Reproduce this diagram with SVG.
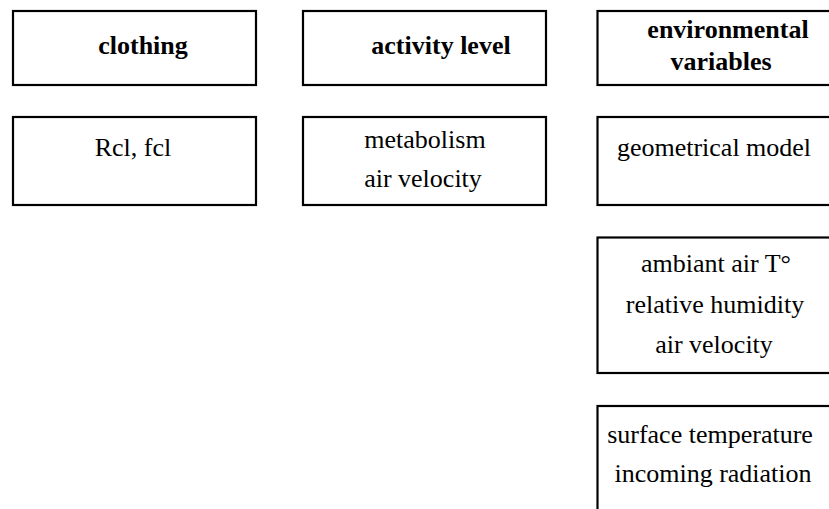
<svg xmlns="http://www.w3.org/2000/svg" width="829" height="509" viewBox="0 0 829 509">
<style>
.box{fill:#fff;stroke:#000;stroke-width:2.2}
.t{font-family:"Liberation Serif","Times New Roman",serif;font-size:26px;fill:#000;text-anchor:middle}
.b{font-weight:bold}
</style>
<rect x="0" y="0" width="829" height="509" fill="#fff"/>
<g id="connectors"></g>
<g id="clothing">
<rect class="box" x="13" y="11" width="243" height="74"/>
<text class="t b" x="143" y="54">clothing</text>
</g>
<g id="activity">
<rect class="box" x="303" y="11" width="243" height="74"/>
<text class="t b" x="441" y="54">activity level</text>
</g>
<g id="environmental">
<rect class="box" x="597.5" y="11" width="250" height="74"/>
<text class="t b" x="728" y="38">environmental</text>
<text class="t b" x="721" y="70">variables</text>
</g>
<g id="rcl">
<rect class="box" x="13" y="117" width="243" height="88"/>
<text class="t" x="133" y="156">Rcl, fcl</text>
</g>
<g id="metabolism">
<rect class="box" x="303" y="117" width="243" height="88"/>
<text class="t" x="425" y="148">metabolism</text>
<text class="t" x="423" y="187">air velocity</text>
</g>
<g id="geometrical">
<rect class="box" x="597.5" y="117" width="250" height="88"/>
<text class="t" x="714" y="156">geometrical model</text>
</g>
<g id="ambiant">
<rect class="box" x="597.5" y="237.5" width="250" height="135.5"/>
<text class="t" x="716" y="272">ambiant air T°</text>
<text class="t" x="715" y="313">relative humidity</text>
<text class="t" x="714" y="353">air velocity</text>
</g>
<g id="surface">
<rect class="box" x="597.5" y="406" width="250" height="120"/>
<text class="t" x="710" y="443">surface temperature</text>
<text class="t" x="713" y="482">incoming radiation</text>
</g>
</svg>
